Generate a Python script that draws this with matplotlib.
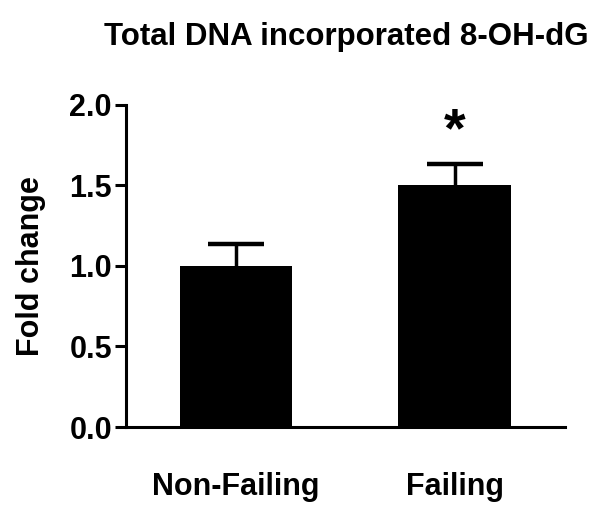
import matplotlib
matplotlib.use("Agg")
import matplotlib.pyplot as plt

plt.rcParams["font.family"] = ["Liberation Sans", "DejaVu Sans"]
plt.rcParams["font.weight"] = "bold"

CATEGORIES = ["Non-Failing", "Failing"]
FOLD_CHANGE = [1.0, 1.5]
SEM = [0.135, 0.135]
MARKS = ["", "*"]
MARK_Y = [None, 1.67]

fig = plt.figure(figsize=(6.02, 5.12), dpi=100)
ax = fig.add_axes([0.209, 0.166, 0.730, 0.629])

x = list(range(len(CATEGORIES)))
ax.bar(x, FOLD_CHANGE, width=0.513, color="black", zorder=2)
_, caps, _ = ax.errorbar(x, FOLD_CHANGE, yerr=[[0, 0], SEM], fmt="none",
                         ecolor="black", elinewidth=2.5, capsize=20,
                         capthick=3.2, zorder=3)
# only the upper cap is shown
caps[0].set_visible(False)

for xi, mark, my in zip(x, MARKS, MARK_Y):
    if mark:
        ax.text(xi, my, mark, ha="center", va="bottom", fontsize=40,
                fontweight="bold")

ax.set_xlim(-0.503, 1.506)
ax.set_ylim(0, 2.0)
ax.set_yticks([0.0, 0.5, 1.0, 1.5, 2.0])
ax.set_yticklabels(["0.0", "0.5", "1.0", "1.5", "2.0"])
ax.set_xticks(x)
ax.set_xticklabels(CATEGORIES)

for side in ["top", "right"]:
    ax.spines[side].set_visible(False)
for side in ["left", "bottom"]:
    ax.spines[side].set_linewidth(2.2)

ax.tick_params(axis="y", direction="out", length=8, width=2.2,
               labelsize=22, pad=2)
ax.tick_params(axis="x", length=0, labelsize=22, pad=43)
for lab in ax.get_xticklabels():
    lab.set_verticalalignment("center")
for lab in ax.get_xticklabels() + ax.get_yticklabels():
    lab.set_fontweight("bold")

ax.set_ylabel("Fold change", fontsize=22, fontweight="bold", labelpad=17)
fig.text(0.575, 0.928, "Total DNA incorporated 8-OH-dG", ha="center",
         va="center", fontsize=22.5, fontweight="bold")

fig.savefig("out.png", dpi=100)
